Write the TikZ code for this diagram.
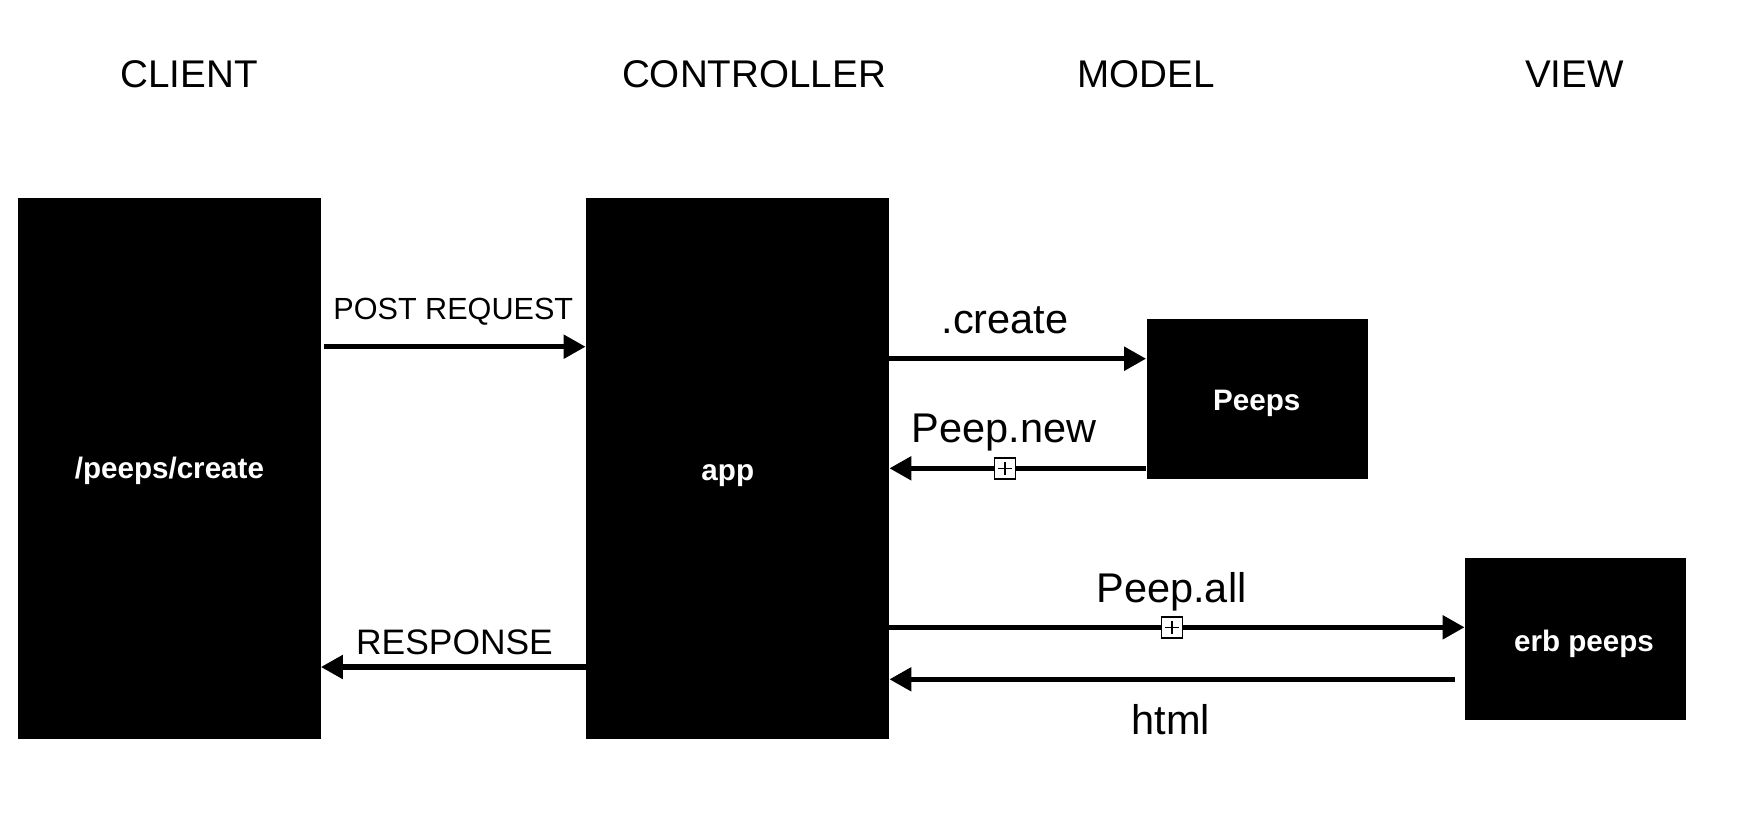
\documentclass[tikz,border=0pt]{standalone}
\usepackage{fontspec}
\setmainfont{Liberation Sans}
\usetikzlibrary{arrows.meta}
\begin{document}
\begin{tikzpicture}[x=0.5pt,y=-0.5pt,
  box/.style={fill=black, draw=none, inner sep=0pt, rectangle},
  boxtext/.style={text=white, font=\fontsize{14.8pt}{18pt}\selectfont\bfseries, anchor=base, inner sep=0pt},
  head/.style={font=\fontsize{19.3pt}{23pt}\selectfont, anchor=base, inner sep=0pt},
  elabel/.style={font=\fontsize{20.75pt}{25pt}\selectfont, anchor=base, inner sep=0pt},
  arr/.style={line width=2.6pt, -{Triangle[length=11pt,width=11.5pt]}},
  plusbox/.style={draw, fill=white, line width=0.75pt, minimum size=10.5pt, inner sep=0pt},
  plusline/.style={line width=0.6pt}
]
\useasboundingbox (0,0) rectangle (1752,816);

% headers
\node[head] (hclient) at (189,87.3) {CLIENT};
\node[head] (hctrl) at (754,87.3) {CONTROLLER};
\node[head] (hmodel) at (1146,87.3) {MODEL};
\node[head] (hview) at (1574.5,87.3) {VIEW};

% boxes
\node[box, minimum width=151.25pt, minimum height=270.5pt] (client) at (169.25,468.5) {};
\node[box, minimum width=151.5pt, minimum height=270.5pt] (ctrl) at (737.5,468.5) {};
\node[box, minimum width=110.75pt, minimum height=80.4pt] (peeps) at (1257.25,398.9) {};
\node[box, minimum width=110.5pt, minimum height=81pt] (erb) at (1575.5,639) {};

% box texts
\node[boxtext] (clienttext) at (169.4,478) {/peeps/create};
\node[boxtext] (apptext) at (727.8,480.7) {app};
\node[boxtext] (peepstext) at (1256.7,410.5) {Peeps};
\node[boxtext] (erbtext) at (1584,651.7) {erb peeps};

% connectors
\draw[arr, shorten <=1.5pt] (client.east |- 0,346.7) -- (ctrl.west |- 0,346.7);
\draw[arr] (ctrl.west |- 0,667) -- (client.east |- 0,667);
\draw[arr] (ctrl.east |- 0,358.7) -- (peeps.west |- 0,358.7);
\draw[arr] (peeps.west |- 0,468.3) -- (ctrl.east |- 0,468.3);
\draw[arr] (ctrl.east |- 0,627.3) -- (erb.west |- 0,627.3);
\draw[arr, shorten <=5pt] (erb.west |- 0,679.3) -- (ctrl.east |- 0,679.3);

% plus markers
\node[plusbox] (plusA) at (1005,468.3) {};
\draw[plusline] ([xshift=-3.3pt]plusA.center) -- ([xshift=3.3pt]plusA.center)
  ([yshift=-3.3pt]plusA.center) -- ([yshift=3.3pt]plusA.center);
\node[plusbox] (plusB) at (1172,627.3) {};
\draw[plusline] ([xshift=-3.3pt]plusB.center) -- ([xshift=3.3pt]plusB.center)
  ([yshift=-3.3pt]plusB.center) -- ([yshift=3.3pt]plusB.center);

% edge labels
\node[font=\fontsize{15.3pt}{18pt}\selectfont, anchor=base, inner sep=0pt] (lpost) at (453.3,319.3) {POST REQUEST};
\node[font=\fontsize{17.7pt}{21pt}\selectfont, anchor=base, inner sep=0pt] (lresp) at (454.5,654) {RESPONSE};
\node[elabel] (lcreate) at (1005,333.3) {.create};
\node[elabel] (lnew) at (1004.2,442.7) {Peep.new};
\node[elabel] (lall) at (1171.5,602.7) {Peep.all};
\node[elabel] (lhtml) at (1171,734.3) {html};
\end{tikzpicture}
\end{document}
